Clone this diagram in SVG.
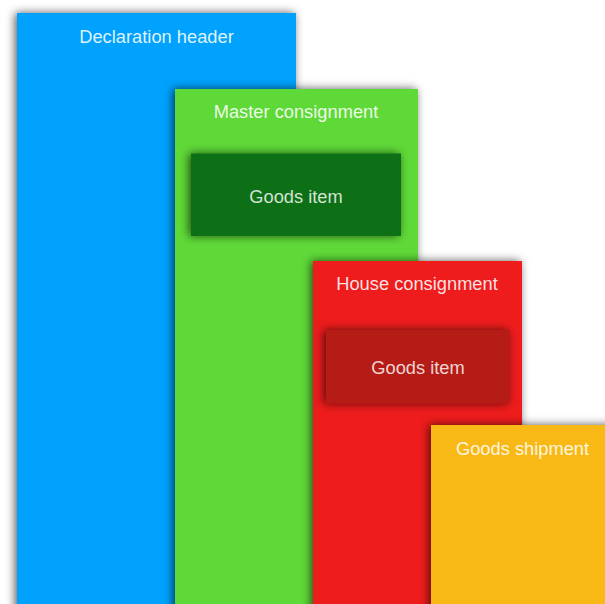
<svg xmlns="http://www.w3.org/2000/svg" width="605" height="604" viewBox="0 0 605 604">
  <defs>
    <filter id="sh" x="-20%" y="-20%" width="140%" height="140%">
      <feDropShadow dx="-2" dy="0" stdDeviation="5" flood-color="#000" flood-opacity="0.65"/>
    </filter>
  </defs>
  <style>
    .t { font-family: "Liberation Sans", Arial, sans-serif; font-size: 18.3px; text-anchor: middle; fill: #ffffff; fill-opacity: 0.88; }
    .g { fill-opacity: 0.82; }
    rect { filter: url(#sh); }
  </style>
  <rect width="605" height="604" fill="#ffffff" style="filter:none"/>
  <g id="declaration-header">
    <rect x="17" y="13" width="279" height="600" fill="#05A2FE"/>
    <text class="t" x="156.5" y="43">Declaration header</text>
  </g>
  <g id="master-consignment">
    <rect x="175" y="89" width="243" height="524" fill="#5FD939"/>
    <text class="t" x="296" y="118">Master consignment</text>
  </g>
  <g id="goods-item-1">
    <rect x="191" y="153.5" width="210" height="82.5" fill="#0A6F19"/>
    <text class="t g" x="296" y="203">Goods item</text>
  </g>
  <g id="house-consignment">
    <rect x="313" y="261" width="209" height="352" fill="#EE1F1C"/>
    <text class="t" x="417" y="290">House consignment</text>
  </g>
  <g id="goods-item-2">
    <rect x="326" y="330" width="183.5" height="73.5" fill="#B51A14"/>
    <text class="t g" x="418" y="373.5">Goods item</text>
  </g>
  <g id="goods-shipment">
    <rect x="431" y="425" width="185" height="190" fill="#F8B918"/>
    <text class="t" x="522.5" y="454.5">Goods shipment</text>
  </g>
  <g id="connectors"/>
</svg>
